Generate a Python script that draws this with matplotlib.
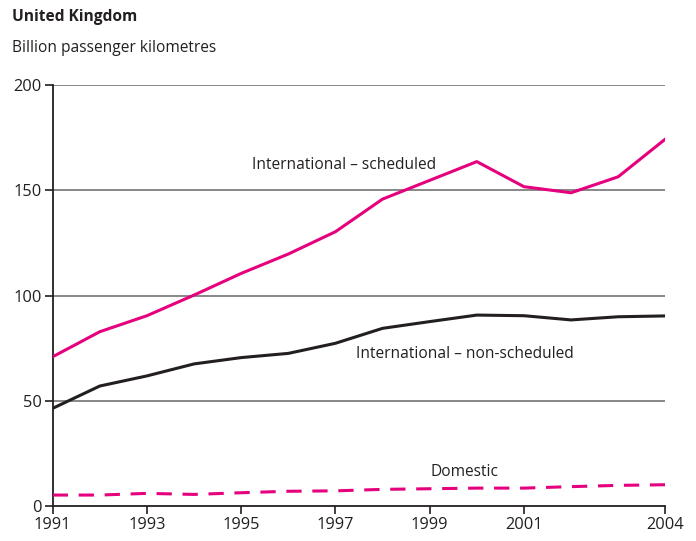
import matplotlib
matplotlib.use("Agg")
import matplotlib.pyplot as plt

plt.rcParams['font.family'] = ['Open Sans', 'DejaVu Sans']

years = [1991, 1992, 1993, 1994, 1995, 1996, 1997, 1998, 1999, 2000, 2001, 2002, 2003, 2004]
scheduled = [70.9, 82.8, 90.4, 100.2, 110.5, 119.7, 130.3, 145.8, 154.7, 163.6, 151.7, 148.8, 156.4, 174.3]
non_scheduled = [46.4, 57.0, 61.8, 67.5, 70.5, 72.5, 77.3, 84.4, 87.6, 90.7, 90.4, 88.4, 89.9, 90.3]
domestic = [5.2, 5.2, 6.0, 5.5, 6.3, 7.0, 7.2, 7.9, 8.2, 8.5, 8.5, 9.2, 9.8, 10.1]

xticks = [1991, 1993, 1995, 1997, 1999, 2001, 2004]
yticks = [0, 50, 100, 150, 200]

magenta = '#E5007D'
dark = '#231F20'
grid_col = '#7F7F7F'
fs = 11.2

fig = plt.figure(figsize=(6.96, 5.41), dpi=100)
ax = fig.add_axes([52.7/696, 1-506/541, (665.3-52.7)/696, (506-85)/541])

for y in yticks[1:]:
    ax.axhline(y, color=grid_col, lw=1.3, zorder=1)

ax.plot(years, scheduled, color=magenta, lw=2.2, zorder=3)
ax.plot(years, non_scheduled, color=dark, lw=2.2, zorder=3)
ax.plot(years, domestic, color=magenta, lw=2.2, dashes=(5, 3.5), zorder=3)

ax.set_xlim(1991, 2004)
ax.set_ylim(0, 200)
ax.set_xticks(xticks)
ax.set_yticks(yticks)
ax.tick_params(axis='both', direction='out', length=6, width=1.2, color=dark,
               labelsize=fs + 0.6, labelcolor=dark)
ax.tick_params(axis='x', pad=2)
ax.tick_params(axis='y', pad=2)
for s in ['top', 'right']:
    ax.spines[s].set_visible(False)
for s in ['left', 'bottom']:
    ax.spines[s].set_color(dark)
    ax.spines[s].set_linewidth(1.3)

ax.text(1997.19, 162, 'International \u2013 scheduled', fontsize=fs, color=dark,
        ha='center', va='center')
ax.text(1999.75, 72, 'International \u2013 non-scheduled', fontsize=fs, color=dark,
        ha='center', va='center')
ax.text(1999.74, 16.2, 'Domestic', fontsize=fs, color=dark, ha='center', va='center')

fig.text(12/696, 1-17/541, 'United Kingdom', fontsize=fs, fontweight='bold',
         color=dark, va='center')
fig.text(12/696, 1-48/541, 'Billion passenger kilometres', fontsize=fs,
         color=dark, va='center')

fig.savefig('out.png', dpi=100)
